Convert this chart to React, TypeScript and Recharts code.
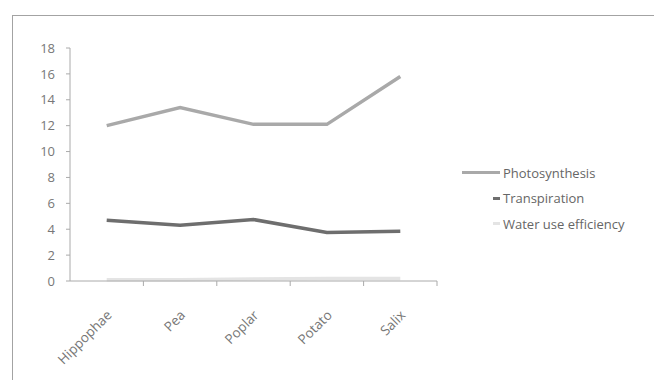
import { LineChart, Line, XAxis, YAxis } from 'recharts'

const categories = ['Hippophae', 'Pea', 'Poplar', 'Potato', 'Salix']
const photosynthesis = [12.0, 13.4, 12.1, 12.1, 15.8]
const transpiration = [4.7, 4.3, 4.75, 3.75, 3.85]
const waterUseEfficiency = [0.1, 0.1, 0.15, 0.2, 0.2]
const yTicks = [0, 2, 4, 6, 8, 10, 12, 14, 16, 18]

const SERIES = [
  { key: 'photosynthesis', name: 'Photosynthesis', color: '#a9a9a9', swatch: 38 },
  { key: 'transpiration', name: 'Transpiration', color: '#6e6e6e', swatch: 7 },
  { key: 'wue', name: 'Water use efficiency', color: '#e4e4e4', swatch: 7 },
]

const data = categories.map((c, i) => ({
  name: c,
  photosynthesis: photosynthesis[i],
  transpiration: transpiration[i],
  wue: waterUseEfficiency[i],
}))

const FONT = '"Open Sans", sans-serif'
const BAND = 367 / categories.length

const XTick = (props: any) => {
  const { x, y, payload } = props
  return (
    <g>
      <line x1={x + BAND / 2} x2={x + BAND / 2} y1={y - 8} y2={y - 3} stroke="#aaa" />
      <text
        transform={`translate(${x + 6},${y + 27}) rotate(-45)`}
        textAnchor="end"
        fontSize={13.5}
        fill="#777"
        fontFamily={FONT}
      >
        {payload.value}
      </text>
    </g>
  )
}

export default function App() {
  return (
    <div style={{ position: 'relative', width: 662, height: 388, margin: -8, background: '#fff', overflow: 'hidden' }}>
      <div style={{ position: 'absolute', left: 12, top: 15, width: 700, height: 369, border: '1px solid #a3a3a3' }} />
      <LineChart
        width={662}
        height={388}
        data={data}
        margin={{ top: 48, right: 225, left: 0, bottom: 20 }}
        style={{ position: 'absolute', left: 0, top: 0 }}
      >
        <XAxis
          dataKey="name"
          height={87}
          tick={<XTick />}
          tickLine={false}
          stroke="#aaa"
          interval={0}
          padding={{ left: BAND / 2, right: BAND / 2 }}
        />
        <YAxis
          width={70}
          domain={[0, 18]}
          ticks={yTicks}
          tickSize={4}
          tickMargin={11}
          stroke="#aaa"
          tick={{ fontSize: 13, fill: '#777', fontFamily: FONT }}
        />
        {SERIES.map(s => (
          <Line
            key={s.key}
            dataKey={s.key}
            name={s.name}
            stroke={s.color}
            strokeWidth={3.5}
            dot={false}
            isAnimationActive={false}
          />
        ))}
      </LineChart>
      <div style={{ position: 'absolute', left: 462, top: 160, fontFamily: FONT, fontSize: 13, color: '#666' }}>
        {SERIES.map((s, i) => (
          <div key={s.key} style={{ display: 'flex', alignItems: 'center', height: 25.5, marginLeft: i === 0 ? 0 : 31 }}>
            <span style={{ display: 'inline-block', width: s.swatch, height: 3, background: s.color, marginRight: 3 }} />
            <span>{s.name}</span>
          </div>
        ))}
      </div>
    </div>
  )
}
